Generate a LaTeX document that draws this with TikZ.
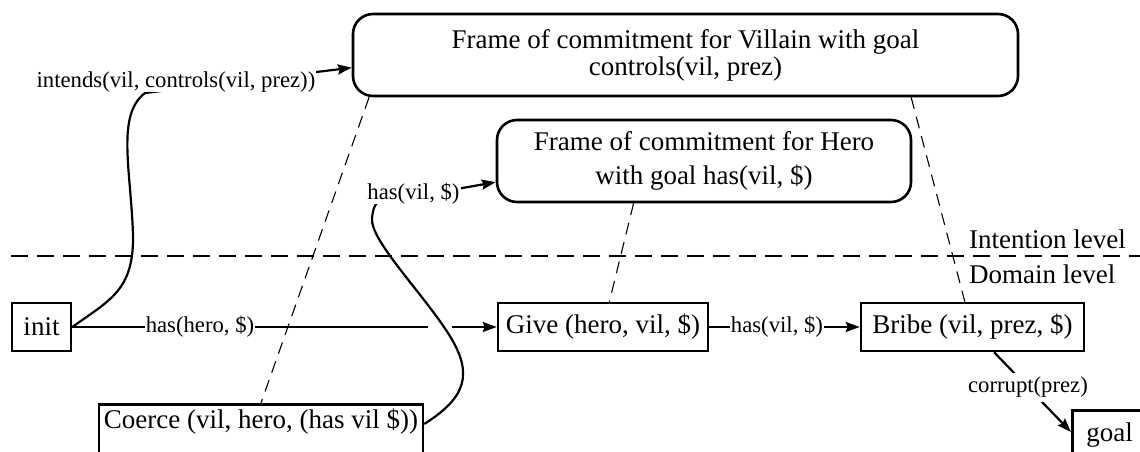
\documentclass[tikz,border=0pt]{standalone}
\usepackage{fontspec}
\setmainfont{Liberation Serif}
\usetikzlibrary{arrows.meta,calc}
\newcommand\mainfs{\fontsize{27}{27}\selectfont}
\newcommand\lblfs{\fontsize{22.7}{22.7}\selectfont}
\begin{document}
\begin{tikzpicture}[x=1pt,y=-1pt,
  box/.style={draw, line width=2.6pt, inner sep=0pt, font=\mainfs},
  frame/.style={box, rounded corners=20pt, align=center},
  conn/.style={line width=2.2pt},
  arr/.style={conn, -{Stealth[length=14pt,width=10pt,inset=2pt]}},
  lbl/.style={fill=white, inner xsep=1pt, inner ysep=0pt, font=\lblfs},
  thindash/.style={line width=1.1pt, dash pattern=on 12pt off 8pt},
  leveldash/.style={line width=2.3pt, dash pattern=on 17pt off 9pt},
  lvl/.style={font=\mainfs, inner sep=0pt, anchor=base west}]
\useasboundingbox (0,0) rectangle (1140,452);
\clip (0,0) rectangle (1140,452);

% frames
\node[frame, minimum width=665pt, minimum height=82pt] (villain) at (685.5,55)
  {Frame of commitment for Villain with goal\\controls(vil, prez)};
\node[frame, minimum width=414pt, minimum height=82pt] (hero) at (704,161)
  {Frame of commitment for Hero\\[7pt]with goal has(vil, \$)};

% domain boxes
\node[box, minimum width=59pt, minimum height=48pt] (init) at (41.5,327) {init};
\node[box, minimum width=210pt, minimum height=48pt] (give) at (603,327) {Give (hero, vil, \$)};
\node[box, minimum width=223pt, minimum height=48pt] (bribe) at (972.5,327) {Bribe (vil, prez, \$)};
\node[box, anchor=north, minimum width=324pt, text height=20pt, text depth=23pt, inner ysep=4pt] (coerce) at (261,403)
  {Coerce (vil, hero, (has vil \$))};
\node[box, anchor=north west, inner xsep=14pt, text width=100pt, align=left, text height=27pt, text depth=23pt, inner ysep=4pt] (goal) at (1071,409) {goal};

% level divider
\coordinate (divL) at (11,256);
\coordinate (divR) at (1140,256);
\draw[leveldash] (divL) -- (divR);
\node[lvl] (intention) at (969,248) {Intention level};
\node[lvl] (domain) at (969,283) {Domain level};

% thin dashed links
\draw[thindash] ($(villain.south west)!0.026!(villain.south east)$) -- (coerce.north);
\draw[thindash] ($(villain.south west)!0.838!(villain.south east)$) -- ($(bribe.north west)!0.466!(bribe.north east)$);
\draw[thindash] ($(hero.south west)!0.331!(hero.south east)$) -- ($(give.north west)!0.53!(give.north east)$);

% intends connector
\draw[arr] (init.east) .. controls (110,300) and (134,290) .. (133,235)
  .. controls (131,170) and (116,115) .. (145,93)
  -- ($(villain.north west)!0.65!(villain.south west)$);
\node[lbl] (intends) at (176,81.6) {intends(vil, controls(vil, prez))};

% has(vil,$) connector from Coerce to Hero frame
\draw[arr] ($(coerce.north east)+(0,21)$) .. controls (465,398) and (475,375) .. (448,333)
  .. controls (420,290) and (370,240) .. (372,218)
  .. controls (373,210) and (374,206) .. (377,203)
  -- ($(hero.north west)!0.75!(hero.south west)$);
\node[lbl] (hasvil) at (413.5,193.6) {has(vil, \$)};

% domain chain
\coordinate (gapL) at (428,327);
\coordinate (gapR) at (452,327);
\draw[conn] (init.east) -- node[lbl, pos=0.359] (hashero) {has(hero, \$)} (gapL);
\draw[arr] (gapR) -- (give.west);
\draw[arr] (give.east) -- node[lbl, pos=0.45] (hasvil2) {has(vil, \$)} (bribe.west);
\draw[arr] ($(bribe.south west)!0.596!(bribe.south east)$) -- node[lbl, inner ysep=4pt, pos=0.44] (corrupt) {corrupt(prez)} ($(goal.north west)+(0,23)$);
\end{tikzpicture}
\end{document}
